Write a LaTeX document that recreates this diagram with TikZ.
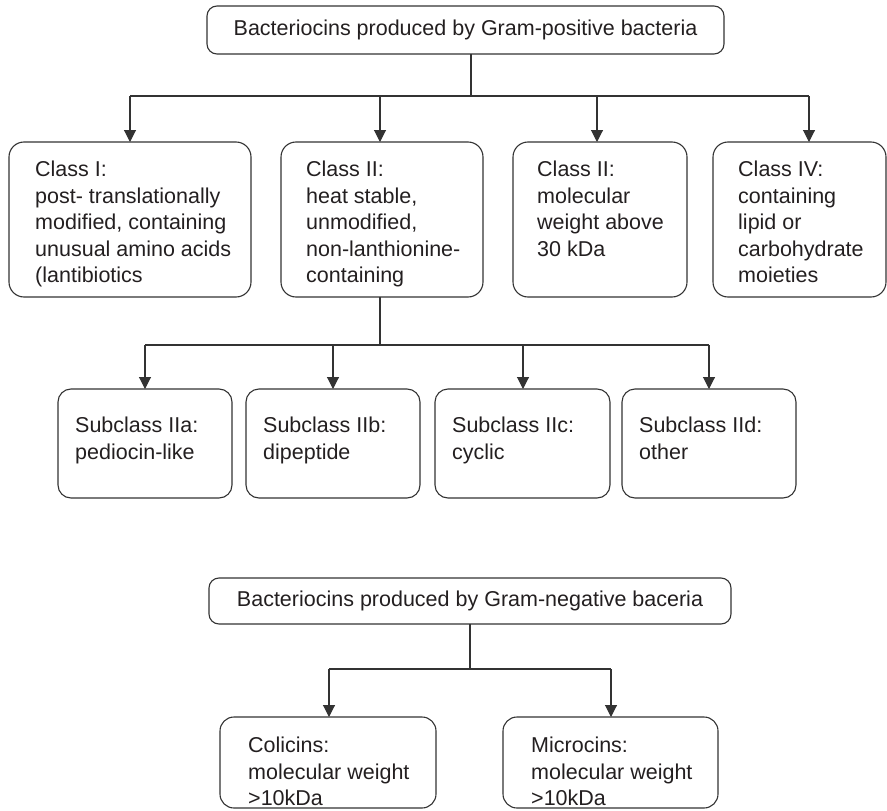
\documentclass[tikz,border=0pt]{standalone}
\usepackage{fontspec}
\setmainfont{Liberation Sans}
\usetikzlibrary{arrows.meta}
\definecolor{lc}{HTML}{333333}
\definecolor{tc}{HTML}{231F20}
\begin{document}
\begin{tikzpicture}[x=1pt,y=-1pt,
  rbox/.style={draw=lc, line width=1.1pt, anchor=north west, inner sep=0pt, outer sep=0pt, rounded corners=#1},
  rbox/.default=14pt,
  txt/.style={anchor=north west, align=left, inner sep=0pt, text=tc, font=\fontsize{21.5}{26.5}\selectfont},
  ctxt/.style={text=tc, font=\fontsize{21.5}{26.5}\selectfont},
  conn/.style={draw=lc, line width=1.1pt},
  arr/.style={conn, -{Triangle[width=12pt,length=12pt]}},
]
\useasboundingbox (0,0) rectangle (887,811);

% ---- Gram-positive ----
\node[rbox=10pt, ctxt, minimum width=517pt, minimum height=48pt] (top) at (207,6) {Bacteriocins produced by Gram-positive bacteria};

\node[rbox=15pt, minimum width=242pt, minimum height=155pt] (c1) at (9,142) {};
\node[txt] (c1t) at ([shift={(26,19)}]c1.north west) {Class I:\\post- translationally\\modified, containing\\unusual amino acids\\(lantibiotics};

\node[rbox=15pt, minimum width=202pt, minimum height=155pt] (c2) at (281,142) {};
\node[txt] (c2t) at ([shift={(25,19)}]c2.north west) {Class II:\\heat stable,\\unmodified,\\non-lanthionine-\\containing};

\node[rbox=15pt, minimum width=174pt, minimum height=155pt] (c3) at (513,142) {};
\node[txt] (c3t) at ([shift={(24,19)}]c3.north west) {Class II:\\molecular\\weight above\\30 kDa};

\node[rbox=15pt, minimum width=173pt, minimum height=155pt] (c4) at (713,142) {};
\node[txt] (c4t) at ([shift={(25,19)}]c4.north west) {Class IV:\\containing\\lipid or\\carbohydrate\\moieties};

\coordinate (j1) at (471,96);
\coordinate (a1) at (130,96);
\coordinate (a2) at (380,96);
\coordinate (a3) at (597,96);
\coordinate (a4) at (809,96);
\draw[conn] (top.south -| j1) -- (j1);
\draw[conn] (a1) -- (a4);
\draw[arr] (a1) -- (a1 |- c1.north);
\draw[arr] (a2) -- (a2 |- c2.north);
\draw[arr] (a3) -- (a3 |- c3.north);
\draw[arr] (a4) -- (a4 |- c4.north);

% ---- Subclasses ----
\node[rbox=13pt, minimum width=174pt, minimum height=109pt] (s1) at (58,389) {};
\node[txt] (s1t) at ([shift={(17,28)}]s1.north west) {Subclass IIa:\\pediocin-like};
\node[rbox=13pt, minimum width=174pt, minimum height=109pt] (s2) at (246,389) {};
\node[txt] (s2t) at ([shift={(17,28)}]s2.north west) {Subclass IIb:\\dipeptide};
\node[rbox=13pt, minimum width=175pt, minimum height=109pt] (s3) at (435,389) {};
\node[txt] (s3t) at ([shift={(17,28)}]s3.north west) {Subclass IIc:\\cyclic};
\node[rbox=13pt, minimum width=174pt, minimum height=109pt] (s4) at (622,389) {};
\node[txt] (s4t) at ([shift={(17,28)}]s4.north west) {Subclass IId:\\other};

\coordinate (j2) at (380,345);
\coordinate (b1) at (145,345);
\coordinate (b2) at (333,345);
\coordinate (b3) at (523,345);
\coordinate (b4) at (709,345);
\draw[conn] (c2.south -| j2) -- (j2);
\draw[conn] (b1) -- (b4);
\draw[arr] (b1) -- (b1 |- s1.north);
\draw[arr] (b2) -- (b2 |- s2.north);
\draw[arr] (b3) -- (b3 |- s3.north);
\draw[arr] (b4) -- (b4 |- s4.north);

% ---- Gram-negative ----
\node[rbox=10pt, ctxt, minimum width=522pt, minimum height=46pt] (neg) at (209,578) {Bacteriocins produced by Gram-negative baceria};

\node[rbox=14pt, minimum width=216pt, minimum height=91pt] (n1) at (220,717) {};
\node[txt] (n1t) at ([shift={(28,20)}]n1.north west) {Colicins:\\molecular weight\\>10kDa};
\node[rbox=14pt, minimum width=215pt, minimum height=91pt] (n2) at (503,717) {};
\node[txt] (n2t) at ([shift={(28,20)}]n2.north west) {Microcins:\\molecular weight\\>10kDa};

\coordinate (j3) at (470,669);
\coordinate (d1) at (329,669);
\coordinate (d2) at (611,669);
\draw[conn] (neg.south -| j3) -- (j3);
\draw[conn] (d1) -- (d2);
\draw[arr] (d1) -- (d1 |- n1.north);
\draw[arr] (d2) -- (d2 |- n2.north);
\end{tikzpicture}
\end{document}
